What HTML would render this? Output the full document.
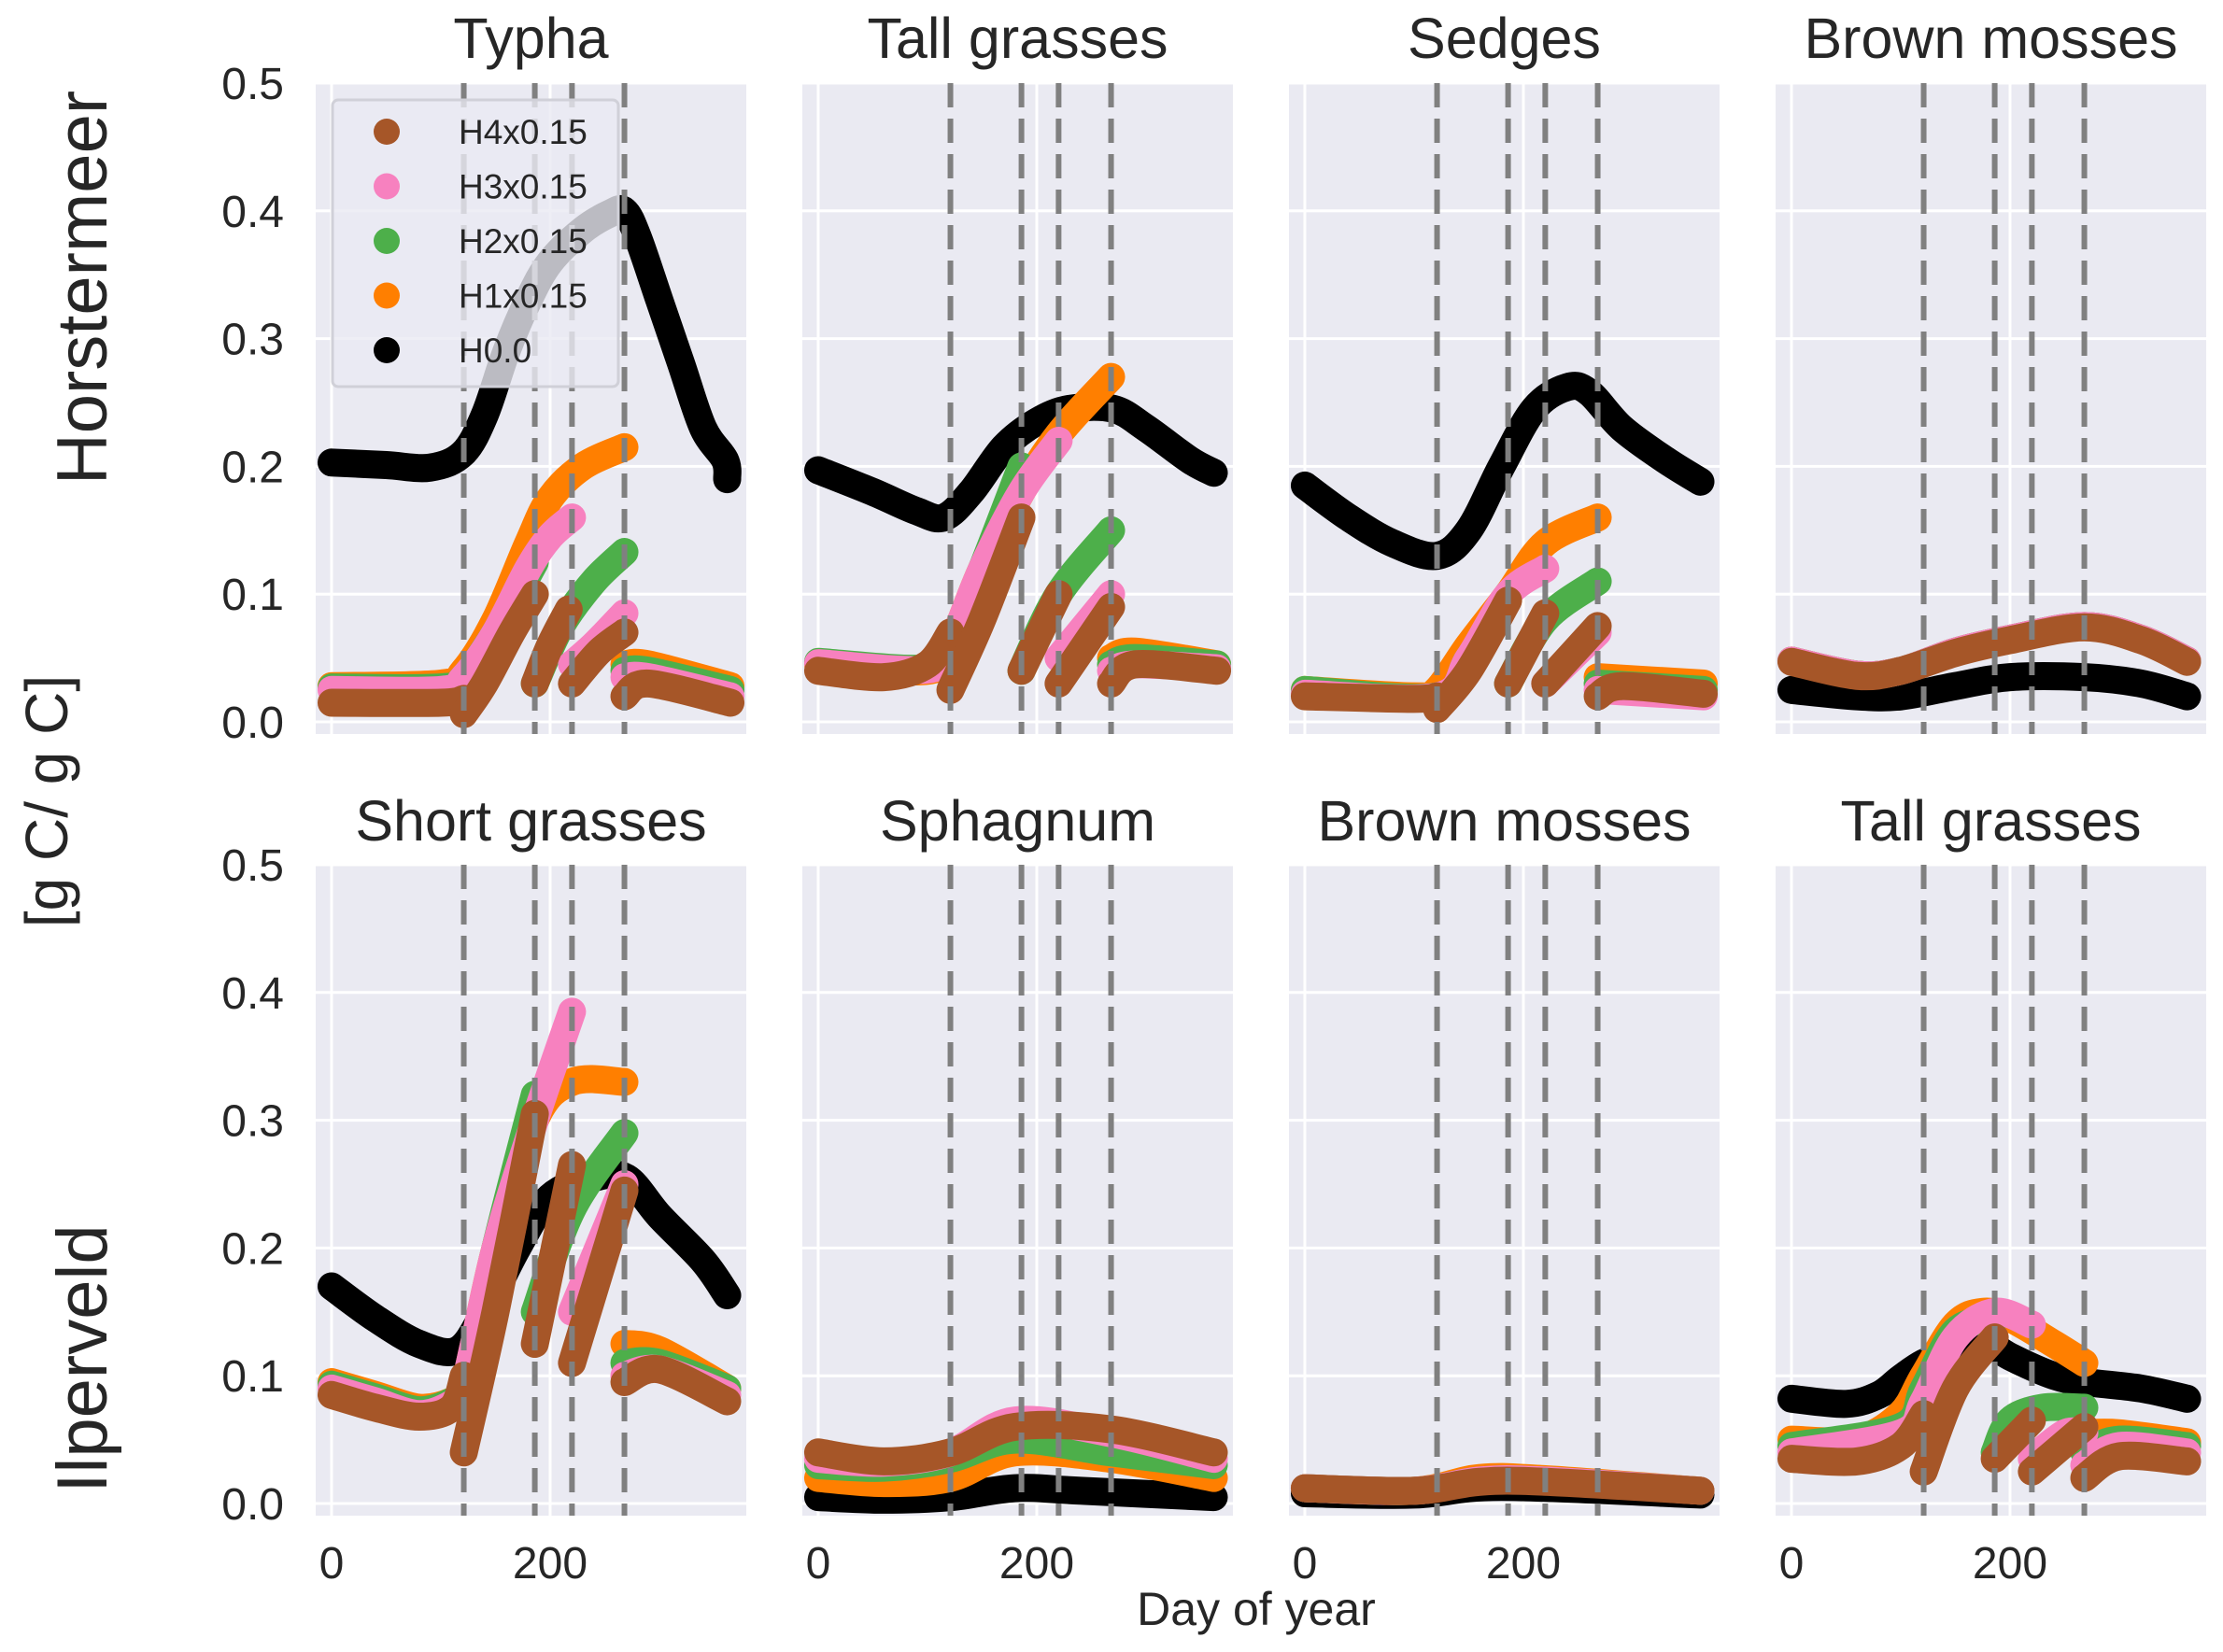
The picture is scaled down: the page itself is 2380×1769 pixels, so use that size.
<!DOCTYPE html>
<html><head><meta charset="utf-8"><style>
html,body{margin:0;padding:0;background:#fff;}
svg{display:block;font-family:"Liberation Sans",sans-serif;}
</style></head><body>
<svg id="chart" width="2380" height="1769" viewBox="0 0 2380 1769" xmlns="http://www.w3.org/2000/svg"></svg>
<script>
// ---- data ----
const panelTitles = ["Typha","Tall grasses","Sedges","Brown mosses","Short grasses","Sphagnum","Brown mosses","Tall grasses"];
const rowLabels = ["Horstermeer","Ilperveld"];
const seriesNames = ["H0.0","H1x0.15","H2x0.15","H3x0.15","H4x0.15"];
const seriesColors = ["#000000","#ff7f00","#4daf4a","#f781bf","#a65628"];
const harvestDays = [121,186,220,268];
const yTicks = [0.0,0.1,0.2,0.3,0.4,0.5];
const xTicks = [0,200];
const typha = [
 [[[0,.203],[50,.201],[90,.199],[120,.21],[140,.24],[160,.29],[180,.33],[200,.36],[230,.385],[255,.398],[268,.40],[280,.38],[300,.33],[320,.28],[340,.23],[360,.205],[362,.19]]],
 [[[0,.028],[100,.03],[121,.04],[150,.08],[180,.14],[200,.175],[230,.2],[268,.215]],[[268,.045],[290,.045],[365,.028]]],
 [[[0,.027],[100,.027],[121,.035],[150,.07],[186,.125]],[[186,.03],[210,.075],[240,.11],[268,.133]],[[268,.04],[290,.04],[365,.025]]],
 [[[0,.025],[100,.025],[121,.035],[150,.07],[180,.12],[200,.145],[220,.16]],[[220,.045],[240,.06],[268,.085]],[[268,.035],[290,.035],[365,.02]]],
 [[[0,.015],[100,.015],[121,.018]],[[121,.006],[140,.03],[165,.07],[186,.1]],[[186,.03],[200,.06],[217,.088]],[[220,.03],[245,.055],[268,.07]],[[268,.02],[290,.03],[365,.015]]]
];
const tallTop = [
 [[[0,.197],[50,.18],[90,.165],[115,.16],[140,.18],[170,.215],[200,.235],[230,.245],[270,.245],[300,.23],[340,.205],[362,.195]]],
 [[[0,.045],[100,.04],[121,.06],[150,.12],[186,.18],[220,.225],[268,.27]],[[268,.05],[290,.055],[365,.045]]],
 [[[0,.047],[100,.042],[121,.06],[150,.12],[186,.2]],[[186,.04],[220,.1],[268,.15]],[[268,.045],[290,.05],[365,.045]]],
 [[[0,.046],[100,.041],[121,.06],[150,.12],[186,.18],[220,.22]],[[220,.05],[268,.1]],[[268,.04],[290,.045],[365,.042]]],
 [[[0,.04],[60,.035],[100,.045],[121,.07]],[[121,.025],[150,.08],[186,.16]],[[186,.04],[220,.1]],[[220,.03],[268,.09]],[[268,.03],[290,.045],[365,.04]]]
];
const sedges = [
 [[[0,.185],[40,.16],[80,.14],[121,.13],[150,.15],[180,.2],[210,.245],[240,.262],[260,.258],[290,.23],[330,.205],[362,.188]]],
 [[[0,.025],[100,.02],[121,.025],[150,.06],[186,.1],[220,.14],[268,.16]],[[268,.035],[365,.03]]],
 [[[0,.025],[121,.02],[150,.05],[186,.1]],[[186,.03],[220,.08],[268,.11]],[[268,.03],[365,.025]]],
 [[[0,.022],[121,.02],[150,.05],[186,.1],[220,.12]],[[220,.03],[268,.07]],[[268,.025],[365,.02]]],
 [[[0,.02],[100,.018],[121,.02]],[[121,.01],[150,.04],[186,.095]],[[186,.03],[220,.085]],[[220,.03],[268,.075]],[[268,.02],[290,.028],[365,.022]]]
];
const mossTop = [
 [[[0,.025],[60,.02],[100,.02],[150,.028],[200,.035],[268,.035],[320,.03],[362,.02]]],
 [[[0,.048],[60,.037],[100,.04],[150,.055],[200,.065],[268,.075],[320,.065],[362,.048]]],
 [[[0,.048],[60,.037],[100,.04],[150,.055],[200,.065],[268,.075],[320,.065],[362,.048]]],
 [[[0,.048],[60,.037],[100,.04],[150,.055],[200,.065],[268,.075],[320,.065],[362,.048]]],
 [[[0,.047],[60,.036],[100,.04],[150,.054],[200,.064],[268,.074],[320,.064],[362,.047]]]
];
const shortG = [
 [[[0,.17],[40,.145],[80,.125],[115,.12],[140,.15],[170,.2],[200,.24],[240,.255],[270,.255],[300,.225],[340,.19],[362,.163]]],
 [[[0,.095],[40,.085],[80,.075],[110,.08],[121,.09],[150,.2],[186,.3],[220,.33],[268,.33]],[[268,.125],[300,.12],[362,.09]]],
 [[[0,.093],[40,.083],[80,.073],[110,.08],[121,.09],[150,.2],[186,.32]],[[186,.15],[220,.23],[268,.29]],[[268,.11],[300,.11],[362,.09]]],
 [[[0,.09],[40,.08],[80,.07],[110,.078],[121,.09],[150,.2],[186,.3],[220,.385]],[[220,.15],[268,.25]],[[268,.1],[300,.105],[362,.085]]],
 [[[0,.085],[40,.075],[80,.068],[110,.075],[121,.1]],[[121,.04],[150,.15],[186,.305]],[[186,.125],[220,.265]],[[220,.11],[268,.245]],[[268,.095],[300,.105],[362,.08]]]
];
const sphag = [
 [[[0,.005],[60,.003],[121,.005],[180,.012],[240,.01],[362,.005]]],
 [[[0,.02],[60,.016],[121,.02],[180,.04],[268,.035],[362,.02]]],
 [[[0,.03],[60,.028],[121,.035],[180,.05],[268,.04],[362,.03]]],
 [[[0,.035],[60,.032],[121,.04],[180,.065],[268,.055],[362,.035]]],
 [[[0,.04],[60,.033],[121,.04],[180,.06],[268,.058],[362,.04]]]
];
const mossBot = [
 [[[0,.008],[100,.007],[180,.013],[362,.007]]],
 [[[0,.012],[100,.01],[160,.02],[220,.019],[362,.01]]],
 [[[0,.012],[100,.01],[160,.018],[220,.018],[362,.01]]],
 [[[0,.012],[100,.01],[160,.018],[220,.018],[362,.01]]],
 [[[0,.012],[100,.01],[160,.017],[220,.017],[362,.01]]]
];
const tallBot = [
 [[[0,.082],[50,.078],[80,.085],[100,.098],[121,.11],[150,.12],[170,.13],[200,.115],[240,.1],[270,.095],[320,.09],[362,.082]]],
 [[[0,.05],[60,.05],[100,.07],[121,.1],[150,.14],[175,.15],[200,.145],[240,.125],[268,.11]],[[268,.055],[300,.055],[362,.048]]],
 [[[0,.045],[100,.06],[121,.09],[150,.135],[186,.145]],[[186,.04],[200,.065],[230,.075],[268,.075]],[[268,.04],[300,.05],[362,.045]]],
 [[[0,.04],[100,.055],[121,.08],[150,.13],[186,.15],[220,.14]],[[220,.035],[250,.055],[268,.055]],[[268,.03],[300,.045],[362,.04]]],
 [[[0,.035],[60,.033],[100,.045],[121,.07]],[[121,.025],[150,.09],[186,.13]],[[186,.035],[220,.065]],[[220,.025],[268,.06]],[[268,.02],[300,.037],[362,.033]]]
];
const panelData = [typha,tallTop,sedges,mossTop,shortG,sphag,mossBot,tallBot];

// ---- layout ----
const NS="http://www.w3.org/2000/svg";
const svg=document.getElementById('chart');
const colLeft=[338,859,1380,1901], pw=461;
const rowTop=[89,926], ph=697;
const xMin=-14.5, xMax=379.5, yMin=-0.0095, yMax=0.5;
function mk(tag,attrs,parent){const e=document.createElementNS(NS,tag);for(const k in attrs)e.setAttribute(k,attrs[k]);(parent||svg).appendChild(e);return e;}
function path(pts){
  if(pts.length<2)return '';
  let d='M'+pts[0][0]+','+pts[0][1];
  for(let i=0;i<pts.length-1;i++){
    const p0=pts[i-1]||pts[i],p1=pts[i],p2=pts[i+1],p3=pts[i+2]||p2;
    const c1=[p1[0]+(p2[0]-p0[0])/6,p1[1]+(p2[1]-p0[1])/6];
    const c2=[p2[0]-(p3[0]-p1[0])/6,p2[1]-(p3[1]-p1[1])/6];
    d+=' C'+c1[0]+','+c1[1]+' '+c2[0]+','+c2[1]+' '+p2[0]+','+p2[1];
  }
  return d;
}
panelData.forEach((series,pi)=>{
  const r=Math.floor(pi/4), c=pi%4;
  const L=colLeft[c], T=rowTop[r];
  const sx=d=>L+(d-xMin)/(xMax-xMin)*pw;
  const sy=v=>T+ph-(v-yMin)/(yMax-yMin)*ph;
  const g=mk('g',{});
  
  
  const bg=mk('rect',{x:L,y:T,width:pw,height:ph,fill:'#eaeaf2'},g);
  
  
  yTicks.forEach(t=>{const l=mk('line',{x1:L,x2:L+pw,y1:sy(t),y2:sy(t),stroke:'#fff','stroke-width':3},g);
    });
  xTicks.forEach(t=>{const l=mk('line',{x1:sx(t),x2:sx(t),y1:T,y2:T+ph,stroke:'#fff','stroke-width':3},g);
    });
  series.forEach((segs,si)=>{
    segs.forEach(seg=>{
      const p=mk('path',{d:path(seg.map(q=>[sx(q[0]),sy(q[1])])),fill:'none',stroke:seriesColors[si],'stroke-width':30,'stroke-linecap':'round','stroke-linejoin':'round'},g);
      
      
    });
  });
  harvestDays.forEach(h=>{const l=mk('line',{x1:sx(h),x2:sx(h),y1:T,y2:T+ph,stroke:'#808080','stroke-width':6,'stroke-dasharray':'26,12'},g);
    });
  const tt=mk('text',{x:L+pw/2,y:r?900:62,'text-anchor':'middle','font-size':61,fill:'#262626'},g);
  tt.textContent=panelTitles[pi];
  
  if(c===0){yTicks.forEach(t=>{const tx=mk('text',{x:304,y:sy(t)+17,'text-anchor':'end','font-size':48,fill:'#262626'},g);
    tx.textContent=t.toFixed(1);});}
  if(r===1){xTicks.forEach(t=>{const tx=mk('text',{x:sx(t),y:1690,'text-anchor':'middle','font-size':48,fill:'#262626'},g);
    tx.textContent=t;});}
  if(pi===0){
    const lg=mk('g',{},g);
    
    mk('rect',{x:356,y:107,width:306,height:307,rx:6,fill:'#eaeaf2','fill-opacity':0.8,stroke:'#d0d0d8','stroke-width':3},lg);
    const order=[4,3,2,1,0];
    order.forEach((si,k)=>{const y=141+k*58.5;
      const cc=mk('circle',{cx:414,cy:y,r:14,fill:seriesColors[si]},lg);
      
      const tx=mk('text',{x:491,y:y+13,'font-size':37,fill:'#262626'},lg);
      tx.textContent=seriesNames[si];});
  }
});
rowLabels.forEach((lab,i)=>{const cy=i?1455:308;
  const t=mk('text',{x:87,y:cy,'text-anchor':'middle','font-size':76,fill:'#262626',transform:'rotate(-90 87 '+cy+') translate(0 27)'});
  t.textContent=lab;});
const yl=mk('text',{x:50,y:858,'text-anchor':'middle','font-size':64,fill:'#262626',transform:'rotate(-90 50 858) translate(0 22)'});
yl.textContent='[g C/ g C]';

const xl=mk('text',{x:1345,y:1740,'text-anchor':'middle','font-size':50,fill:'#262626'});
xl.textContent='Day of year';

</script>
</body></html>
